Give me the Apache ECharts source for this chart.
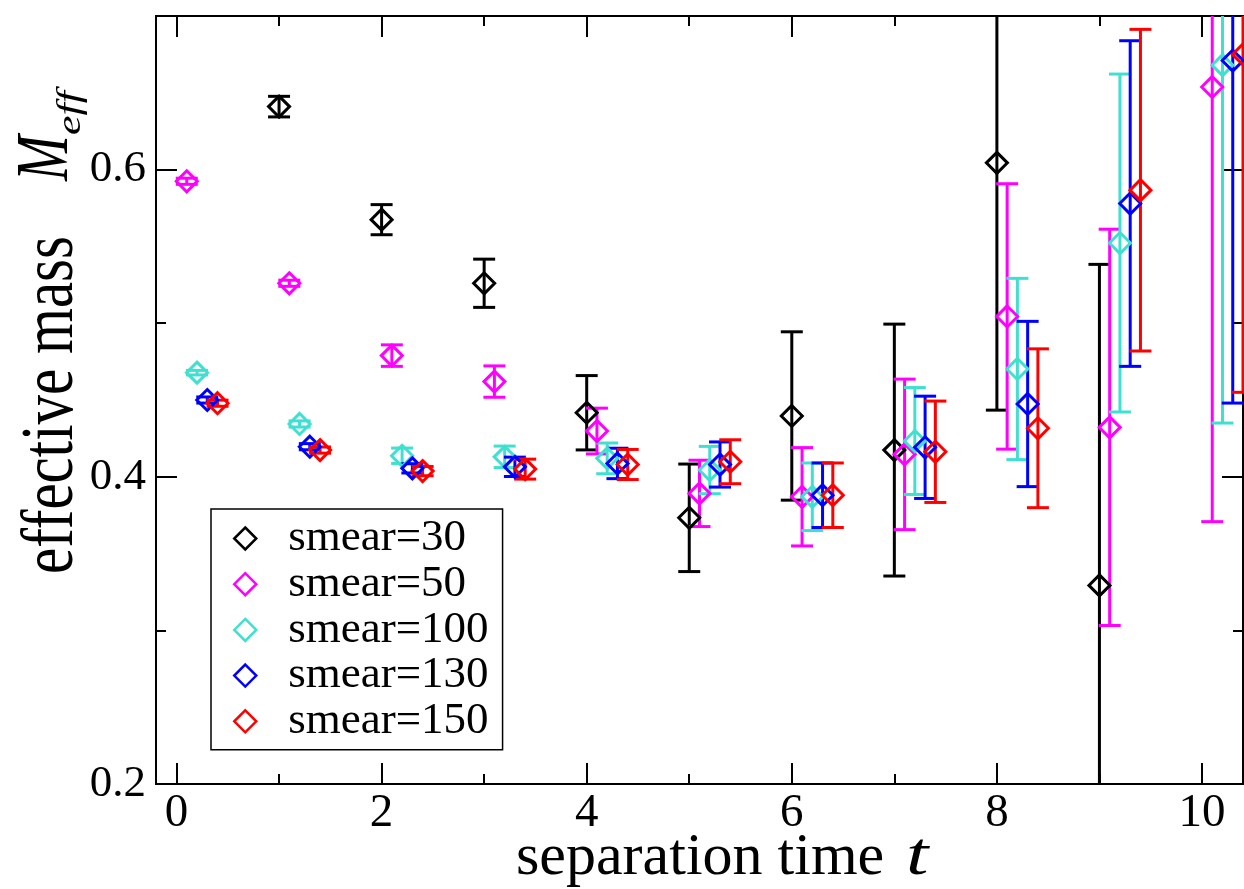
<!DOCTYPE html>
<html><head><meta charset="utf-8">
<script src="https://cdn.jsdelivr.net/npm/echarts@6/dist/echarts.min.js"></script>
<style>html,body{margin:0;padding:0;background:#fff}#c{width:1244px;height:889px}</style>
</head><body><div id="c"></div>
<script>
// ---- data ----
const times = [0, 1, 2, 3, 4, 5, 6, 7, 8, 9, 10];
const smearNames = ['smear=30', 'smear=50', 'smear=100', 'smear=130', 'smear=150'];
const xShift = [0, 0.1, 0.2, 0.3, 0.4];
const m30  = [null, 0.641, 0.5674, 0.526, 0.4417, 0.3733, 0.4396, 0.4174, 0.6044, 0.3293, null];
const e30  = [null, 0.0067, 0.0098, 0.0157, 0.0242, 0.035, 0.0548, 0.082, 0.161, 0.209, null];
const m50  = [0.5924, 0.526, 0.4789, 0.462, 0.4298, 0.3892, 0.387, 0.4146, 0.5044, 0.4322, 0.6538];
const e50  = [0.002, 0.002, 0.007, 0.0102, 0.0149, 0.0216, 0.032, 0.049, 0.0864, 0.129, 0.283];
const m100 = [0.4678, 0.4344, 0.4137, 0.413, 0.412, 0.4044, 0.387, 0.4233, 0.4702, 0.5522, 0.668];
const e100 = [0.0015, 0.002, 0.005, 0.007, 0.01, 0.0154, 0.022, 0.0348, 0.059, 0.11, 0.233];
const m130 = [0.45, 0.4196, 0.4055, 0.4065, 0.4087, 0.408, 0.388, 0.4192, 0.4474, 0.5779, 0.671];
const e130 = [0.002, 0.002, 0.003, 0.0063, 0.0099, 0.0147, 0.021, 0.0333, 0.0538, 0.106, 0.223];
const m150 = [0.4479, 0.4174, 0.4037, 0.405, 0.408, 0.4098, 0.388, 0.4163, 0.4316, 0.5866, 0.675];
const e150 = [0.002, 0.002, 0.003, 0.0065, 0.0098, 0.0143, 0.021, 0.033, 0.0517, 0.1047, 0.22];
const xTickLabels = [0, 2, 4, 6, 8, 10];
const xMinorTicks = [1, 3, 5, 7, 9];
const yTickLabels = [0.2, 0.4, 0.6];
const yMinorTicks = [0.3, 0.5, 0.7];

const means = [m30, m50, m100, m130, m150];
const errs = [e30, e50, e100, e130, e150];
const colors = ['#000000', '#ff00ff', '#40e0d0', '#0000ff', '#ff0000'];
const FONT = '"Liberation Serif", "Times New Roman", serif';

function pts(k) {
  const out = [];
  times.forEach((t, i) => {
    if (means[k][i] == null) return;
    out.push([+(t + xShift[k]).toFixed(2), means[k][i], errs[k][i]]);
  });
  return out;
}

const series = [];
means.forEach((_, k) => {
  const color = colors[k];
  series.push({
    type: 'custom', name: 'err' + k, silent: true,
    data: pts(k).map(p => [p[0], p[1] - p[2], p[1] + p[2]]),
    renderItem(params, api) {
      const x = api.value(0), lo = api.value(1), hi = api.value(2);
      const cs = params.coordSys;
      const top = cs.y, bot = cs.y + cs.height;
      const pLo = api.coord([x, lo]), pHi = api.coord([x, hi]);
      const px = pLo[0];
      const yb = pLo[1], yt = pHi[1];
      const st = { stroke: color, lineWidth: 3 };
      const ch = [{ type: 'line', shape: { x1: px, y1: Math.min(yb, bot), x2: px, y2: Math.max(yt, top) }, style: st }];
      if (yb <= bot) ch.push({ type: 'line', shape: { x1: px - 11, y1: yb, x2: px + 11, y2: yb }, style: st });
      if (yt >= top) ch.push({ type: 'line', shape: { x1: px - 11, y1: yt, x2: px + 11, y2: yt }, style: st });
      return { type: 'group', children: ch };
    }
  });
  series.push({
    type: 'scatter', name: smearNames[k], symbol: 'diamond', symbolSize: 21,
    itemStyle: { color: 'rgba(0,0,0,0)', borderColor: color, borderWidth: 3, opacity: 1 },
    data: pts(k).map(p => [p[0], p[1]])
  });
});

function xAx(pos, ticks, len, labels) {
  return {
    type: 'value', position: pos, min: -0.2, max: 10.4,
    axisLine: { show: true, onZero: false, lineStyle: { color: '#000', width: 2 } },
    axisTick: { show: true, inside: true, length: len, customValues: ticks, lineStyle: { color: '#000', width: 2 } },
    axisLabel: labels ? { show: true, customValues: ticks, fontFamily: FONT, fontSize: 47, color: '#000', margin: 6 } : { show: false },
    splitLine: { show: false }
  };
}
function yAx(pos, ticks, len, labels) {
  return {
    type: 'value', position: pos, min: 0.2, max: 0.7,
    axisLine: { show: true, onZero: false, lineStyle: { color: '#000', width: 2 } },
    axisTick: { show: true, inside: true, length: len, customValues: ticks, lineStyle: { color: '#000', width: 2 } },
    axisLabel: labels ? { show: true, customValues: ticks, fontFamily: FONT, fontSize: 45, color: '#000', margin: 10, formatter: v => v.toFixed(1) } : { show: false },
    splitLine: { show: false }
  };
}

const chart = echarts.init(document.getElementById('c'), null, { renderer: 'canvas' });
chart.setOption({
  animation: false,
  backgroundColor: '#fff',
  grid: { left: 156, right: 1, top: 16, bottom: 105, containLabel: false },
  xAxis: [xAx('bottom', xTickLabels, 21, true), xAx('bottom', xMinorTicks, 10, false), xAx('top', xTickLabels, 21, false), xAx('top', xMinorTicks, 10, false)],
  yAxis: [yAx('left', yTickLabels, 21, true), yAx('left', yMinorTicks, 10, false), yAx('right', yTickLabels, 21, false), yAx('right', yMinorTicks, 10, false)],
  legend: {
    orient: 'vertical', left: 211, top: 509, selectedMode: false,
    data: smearNames.map((n, i) => ({ name: n, icon: 'diamond', itemStyle: { color: 'rgba(0,0,0,0)', borderColor: colors[i], borderWidth: 2.5 } })),
    itemWidth: 22, itemHeight: 22, itemGap: 0.7,
    padding: [7, 14, 6, 22],
    borderColor: '#000', borderWidth: 1.5, backgroundColor: '#fff',
    textStyle: { fontFamily: FONT, fontSize: 45, color: '#000', lineHeight: 42, padding: [0, 0, 0, 27] }
  },
  graphic: [
    { type: 'text', x: 516, y: 858, style: { text: 'separation time', font: '60px ' + FONT, fill: '#000', align: 'left', verticalAlign: 'middle' } },
    { type: 'text', x: 906, y: 858, scaleX: 1.3, style: { text: 't', font: 'italic 62px ' + FONT, fill: '#000', align: 'left', verticalAlign: 'middle' } },
    { type: 'text', x: 53, y: 574, rotation: Math.PI / 2, scaleY: 1.25, style: { text: 'effective mass', font: '59px ' + FONT, fill: '#000', align: 'left', verticalAlign: 'middle' } },
    { type: 'text', x: 47, y: 181, rotation: Math.PI / 2, scaleY: 1.35, style: { text: 'M', font: 'italic 55px ' + FONT, fill: '#000', align: 'left', verticalAlign: 'middle' } },
    { type: 'text', x: 71, y: 135, rotation: Math.PI / 2, scaleY: 0.75, style: { text: 'eff', font: 'italic 44px ' + FONT, fill: '#000', align: 'left', verticalAlign: 'middle' } }
  ],
  series: series
});
</script>
</body></html>
